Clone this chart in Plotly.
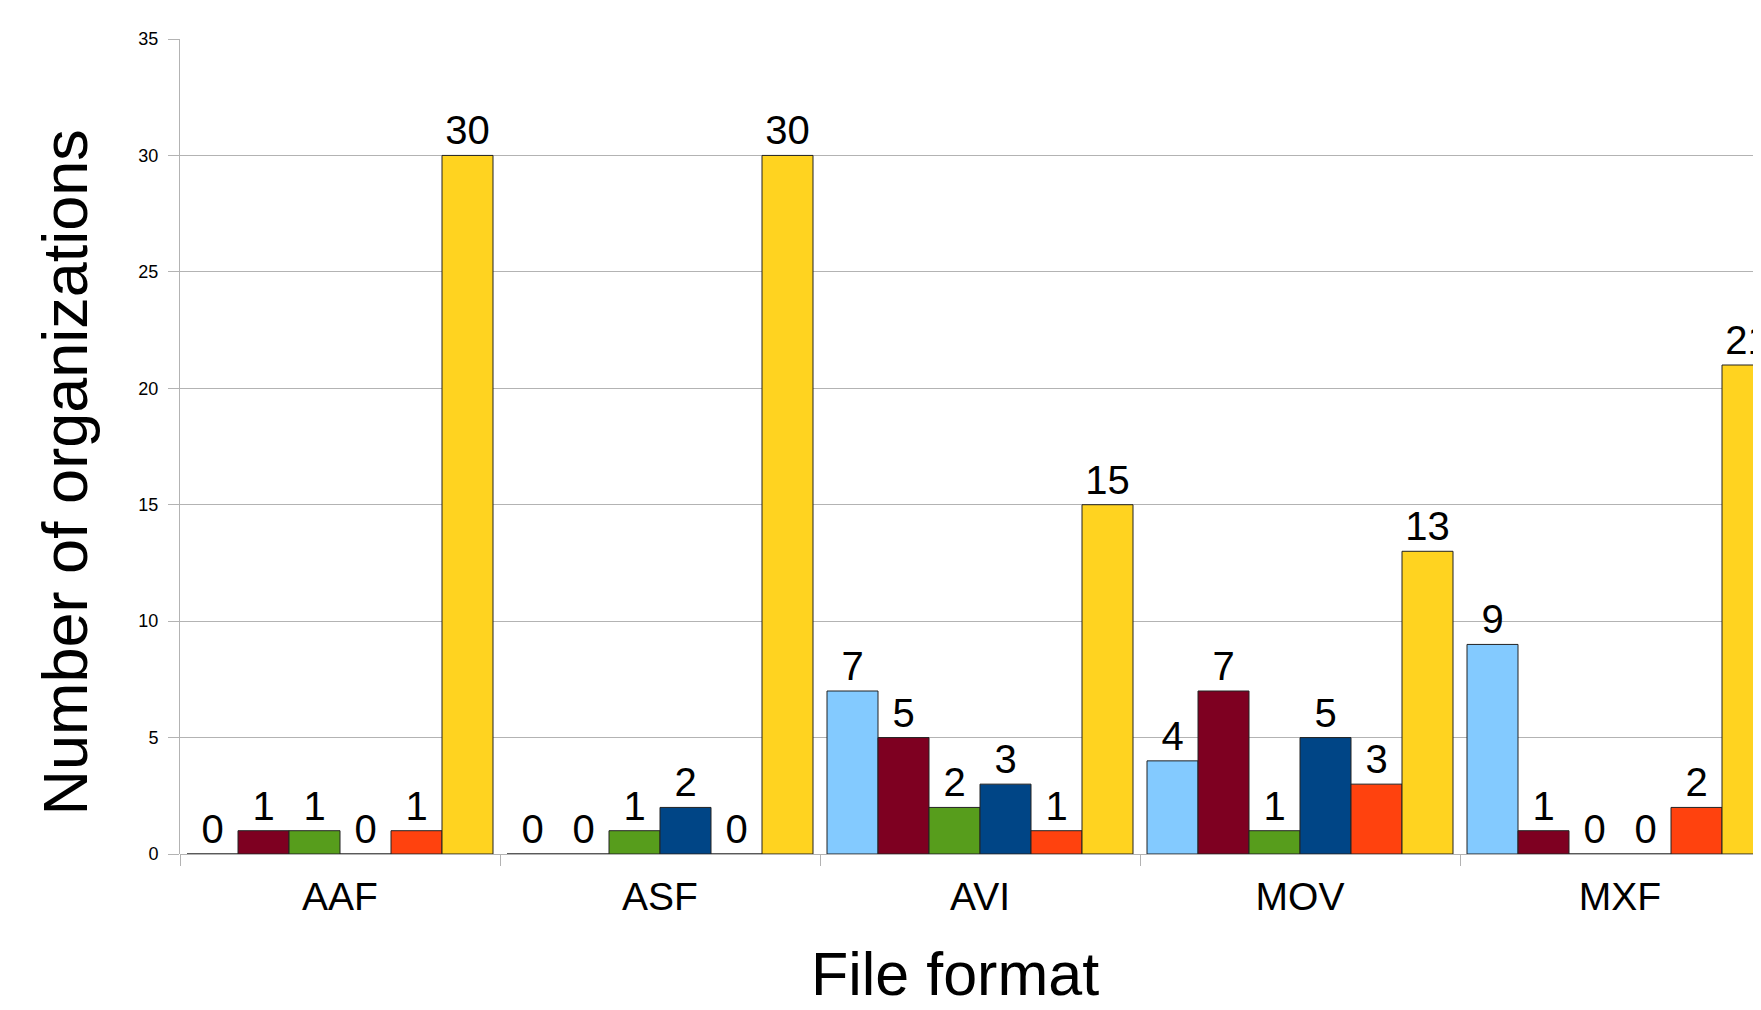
import plotly.graph_objects as go

categories = ["AAF", "ASF", "AVI", "MOV", "MXF"]
series_names = ["Series 1", "Series 2", "Series 3", "Series 4", "Series 5", "Series 6"]
series_1 = [0, 0, 7, 4, 9]
series_2 = [1, 0, 5, 7, 1]
series_3 = [1, 1, 2, 1, 0]
series_4 = [0, 2, 3, 5, 0]
series_5 = [1, 0, 1, 3, 2]
series_6 = [30, 30, 15, 13, 21]
series_values = [series_1, series_2, series_3, series_4, series_5, series_6]
colors = ["#83CAFF", "#7E0021", "#579D1C", "#004586", "#FF420E", "#FFD320"]
y_ticks = [0, 5, 10, 15, 20, 25, 30, 35]

FONT = "Liberation Sans, Arial, sans-serif"

fig = go.Figure()
for name, vals, col in zip(series_names, series_values, colors):
    fig.add_trace(go.Bar(
        x=categories, y=vals, name=name,
        marker=dict(color=col, line=dict(color="#222222", width=1)),
        text=[str(v) for v in vals], textposition="outside",
        textfont=dict(family=FONT, size=40, color="#000000"),
        cliponaxis=False, constraintext="none", textangle=0,
        showlegend=False,
    ))

# page body has an 8px margin, so the figure is positioned to compensate
OFF = 8
W, H = 1761 - OFF, 1010 - OFF
left, top, bottom = 180 - OFF, 39 - OFF, 854 - OFF
cat_w = 320
x_max = -0.5 + (W - left) / cat_w

fig.update_layout(
    width=W, height=H,
    margin=dict(l=left, r=0, t=top, b=H - bottom),
    paper_bgcolor="white", plot_bgcolor="white",
    barmode="group", bargap=14 / 320, bargroupgap=0,
    font=dict(family=FONT, color="#000000"),
    xaxis=dict(
        range=[-0.5, x_max], type="category",
        tickson="boundaries", ticks="outside", ticklen=11, tickcolor="#b3b3b3",
        tickfont=dict(size=39, family=FONT, color="#000000"),
        showgrid=False, showline=False, zeroline=False,
        ticklabelstandoff=16,
    ),
    yaxis=dict(
        range=[0, 35], tickvals=y_ticks, ticktext=[str(t) for t in y_ticks],
        ticks="outside", ticklen=11, tickcolor="#b3b3b3",
        tickfont=dict(size=18, family=FONT, color="#000000"),
        showgrid=True, gridcolor="#b3b3b3", gridwidth=1,
        showline=True, linecolor="#b3b3b3", linewidth=1,
        zeroline=True, zerolinecolor="#b3b3b3", zerolinewidth=1,
        ticklabelstandoff=6,
    ),
    annotations=[
        dict(text="File format", xref="paper", yref="paper",
             x=(955 - 180) / (W - left), y=(bottom - (974 - OFF)) / (bottom - top),
             xanchor="center", yanchor="middle", showarrow=False,
             font=dict(size=61, family=FONT, color="#000000")),
        dict(text="Number of organizations", xref="paper", yref="paper",
             x=(64 - 180) / (W - left), y=(bottom - (472.5 - OFF)) / (bottom - top),
             xanchor="center", yanchor="middle", showarrow=False, textangle=-90,
             font=dict(size=63, family=FONT, color="#000000")),
    ],
)

fig.write_html("out.html")
